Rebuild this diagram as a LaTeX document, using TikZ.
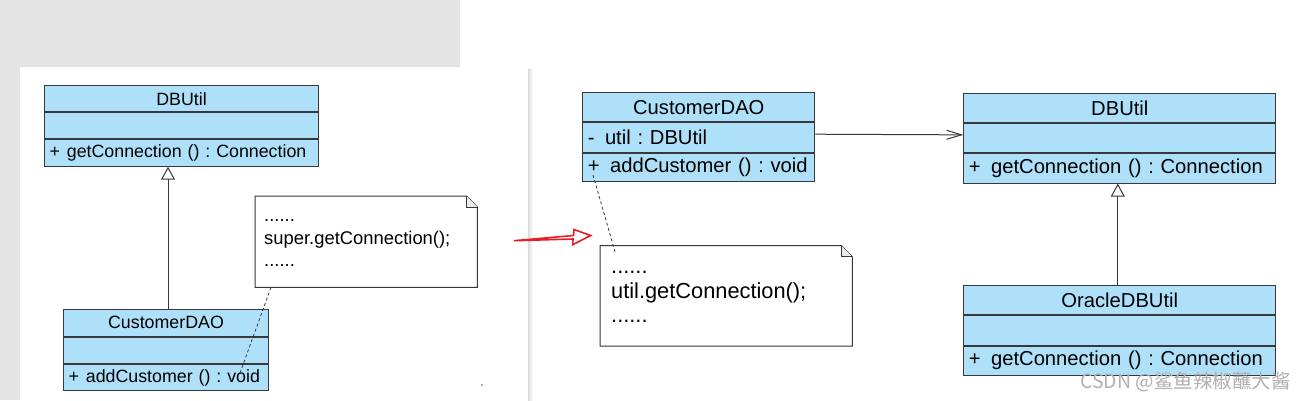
\documentclass[tikz,border=0pt]{standalone}
\usepackage{fontspec}
\setmainfont{Liberation Sans}
\newfontfamily\cjkfont{Noto Sans CJK SC}
\usetikzlibrary{positioning,arrows,arrows.meta}
\frenchspacing

\definecolor{clsblue}{RGB}{174,224,250}
\definecolor{clsline}{RGB}{55,55,60}
\definecolor{bggray}{RGB}{228,228,228}
\definecolor{arrred}{RGB}{232,28,36}
\definecolor{wmgray}{RGB}{175,175,175}

\newcommand{\umlsmall}{\fontsize{17.8}{21}\selectfont}
\newcommand{\umlbig}{\fontsize{20.2}{24}\selectfont}
\newcommand{\notesmall}{\fontsize{18.4}{21}\selectfont}
\newcommand{\notebig}{\fontsize{21.8}{25}\selectfont}
\newcommand{\gapsmall}{\hspace{7pt}}
\newcommand{\gapbig}{\hspace{10.5pt}}

\tikzset{
  clsname/.style={draw=clsline, fill=clsblue, line width=1pt, inner sep=0pt,
    anchor=north west, minimum width=#1},
  clsop/.style={clsname=#1, inner xsep=5pt, align=left},
  notebox/.style={inner sep=0pt, anchor=north west},
  noteline/.style={draw=clsline, line width=1pt},
  notetext/.style={inner sep=0pt, anchor=base west},
  inherit/.style={draw=clsline, line width=1pt,
    -{Triangle[open, length=13pt, width=14pt, fill=white]}},
  assoc/.style={draw=clsline, line width=1pt,
    -{Straight Barb[length=15pt, width=9pt]}},
  notelink/.style={draw=clsline, line width=0.8pt, dash pattern=on 3pt off 2.5pt},
}

\begin{document}
\begin{tikzpicture}[x=1pt,y=-1pt]
\useasboundingbox (0,0) rectangle (1306,400);
% page and panel
\fill[bggray] (0,0) rectangle (460,400);
\shade[left color=black!14, right color=white] (528,69) rectangle (533,400);
\fill[white] (20,67) rectangle (528,400);

% left: inheritance version
\node[clsname=274, minimum height=26, font=\umlsmall] (db1) at (44,85.3) {DBUtil};
\node[clsname=274, minimum height=26] (db1attr) at (db1.south west) {};
\node[clsop=274, text width=264pt, minimum height=26.4, font=\umlsmall] (db1op) at (db1attr.south west) {\mbox{+\gapsmall getConnection () : Connection}};
\node[clsname=205, minimum height=26.5, font=\umlsmall] (cd1) at (63,309) {CustomerDAO};
\node[clsname=205, minimum height=26.3] (cd1attr) at (cd1.south west) {};
\node[clsop=205, text width=195pt, minimum height=26.3, font=\umlsmall] (cd1op) at (cd1attr.south west) {\mbox{+\gapsmall addCustomer () : void}};
\draw[inherit] ([xshift=2pt]cd1.north) -- ([xshift=2pt]cd1.north |- db1op.south);

\node[notebox, minimum width=222, minimum height=91] (note1) at (255,196) {};
\draw[noteline, fill=white] (note1.north west) -- ([xshift=-11pt]note1.north east)
  -- ([yshift=-11pt]note1.north east) -- (note1.south east) -- (note1.south west) -- cycle;
\draw[noteline, fill=black!8] ([xshift=-11pt]note1.north east)
  -- ([xshift=-11pt,yshift=-11pt]note1.north east) -- ([yshift=-11pt]note1.north east);
\node[notetext, font=\notesmall] (note1a) at (264,221) {......};
\node[notetext, font=\notesmall] (note1b) at (264,244) {super.getConnection();};
\node[notetext, font=\notesmall] (note1c) at (264,266) {......};
\coordinate (cd1link) at (240,373);
\draw[notelink] ([xshift=16pt]note1.south west) -- (cd1link);
\fill[black!45] (482,385) circle (1.2);

% red arrow
\draw[arrred, line width=1.6pt, line join=miter] (514,240.7) -- (573.5,235.5)
  -- (574,229.5) -- (590.7,235.5) -- (572.7,244.7) -- (573,239) -- cycle;

% right: composition version
\node[clsname=232, minimum height=29, font=\umlbig] (cd2) at (582.3,92.3) {CustomerDAO};
\node[clsop=232, text width=222pt, minimum height=29.4, font=\umlbig] (cd2attr) at (cd2.south west) {\mbox{-\gapbig util : DBUtil}};
\node[clsop=232, text width=222pt, minimum height=28.3, font=\umlbig] (cd2op) at (cd2attr.south west) {\mbox{+\gapbig addCustomer () : void}};

\node[notebox, minimum width=252, minimum height=100] (note2) at (600,245.7) {};
\draw[noteline, fill=white] (note2.north west) -- ([xshift=-11pt]note2.north east)
  -- ([yshift=-11pt]note2.north east) -- (note2.south east) -- (note2.south west) -- cycle;
\draw[noteline, fill=black!8] ([xshift=-11pt]note2.north east)
  -- ([xshift=-11pt,yshift=-11pt]note2.north east) -- ([yshift=-11pt]note2.north east);
\node[notetext, font=\notebig] (note2a) at (611,273) {......};
\node[notetext, font=\notebig] (note2b) at (611,298) {util.getConnection();};
\node[notetext, font=\notebig] (note2c) at (611,322) {......};
\coordinate (cd2link) at (593,175);
\draw[notelink] (cd2link) -- ([xshift=15pt,yshift=-6pt]note2.north west);

\node[clsname=312, minimum height=29.3, font=\umlbig] (db2) at (963.3,92.7) {DBUtil};
\node[clsname=312, minimum height=29.3] (db2attr) at (db2.south west) {};
\node[clsop=312, text width=302pt, minimum height=29.3, font=\umlbig] (db2op) at (db2attr.south west) {\mbox{+\gapbig getConnection () : Connection}};
\draw[assoc] ([yshift=3.3pt]cd2attr.east) -- ([yshift=3.3pt]db2attr.west);

\node[clsname=312, minimum height=29.3, font=\umlbig] (ora) at (963.3,285) {OracleDBUtil};
\node[clsname=312, minimum height=29.3] (oraattr) at (ora.south west) {};
\node[clsop=312, text width=302pt, minimum height=29.3, font=\umlbig] (oraop) at (oraattr.south west) {\mbox{+\gapbig getConnection () : Connection}};
\draw[inherit] ([xshift=-2pt]ora.north) -- ([xshift=-2pt]db2op.south);

\node[inner sep=0pt, anchor=east, text=wmgray, font=\cjkfont\fontsize{19.5}{22}\selectfont] (wm) at (1291,382) {CSDN @鲨鱼辣椒蘸大酱};
\end{tikzpicture}
\end{document}
